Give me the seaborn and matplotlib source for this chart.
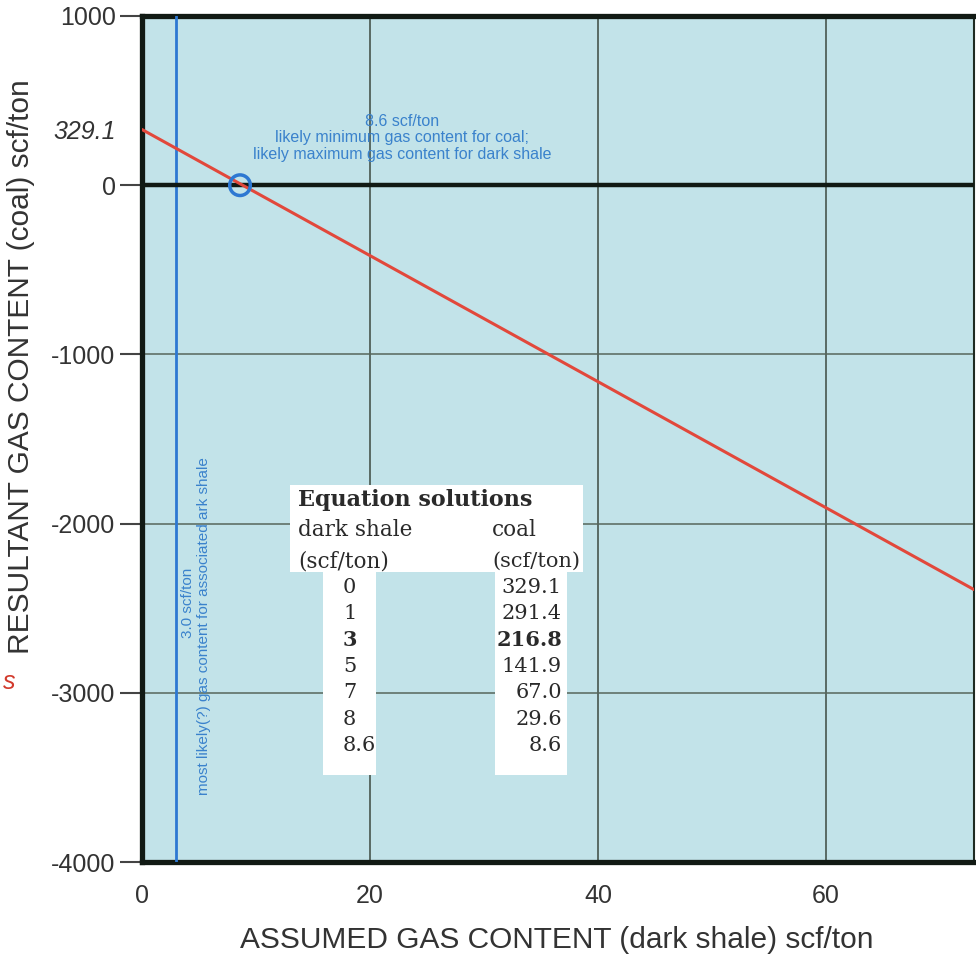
import numpy as np
import pandas as pd
import matplotlib
matplotlib.use("Agg")
import matplotlib.pyplot as plt
import seaborn as sns
from matplotlib.patches import Rectangle

# equation solutions (dark shale vs coal, scf/ton)
shale_vals = [0, 1, 3, 5, 7, 8, 8.6]
coal_vals = [329.1, 291.4, 216.8, 141.9, 67.0, 29.6, 8.6]
shale_labels = ["0", "1", "3", "5", "7", "8", "8.6"]
coal_labels = ["329.1", "291.4", "216.8", "141.9", "67.0", "29.6", "8.6"]
bold_row = 2

# resultant line (extends to right edge)
line_x = [0, 8.6, 73]
line_y = [329.1, 8.6, -2390]

# marked points
min_coal_x = [8.6]
min_coal_y = [0]
likely_shale = 3.0

x_ticks = [0, 20, 40, 60]
y_ticks = [1000, 329.1, 0, -1000, -2000, -3000, -4000]
y_tick_labels = ["1000", "329.1", "0", "-1000", "-2000", "-3000", "-4000"]

sns.set_style("white")
plt.rcParams["font.family"] = ["Liberation Sans", "DejaVu Sans"]

fig = plt.figure(figsize=(9.76, 9.6), dpi=100)
ax = fig.add_axes([142 / 976, 98 / 960, 832 / 976, 846 / 960])
ax.set_facecolor("#c2e3e9")

df = pd.DataFrame({"shale": line_x, "coal": line_y})
sns.lineplot(data=df, x="shale", y="coal", color="#e2483b", linewidth=2.2, ax=ax, zorder=4)

ax.axvline(likely_shale, color="#2d78d2", linewidth=2.0, zorder=3)
ax.axhline(0, color="#111a14", linewidth=3.2, zorder=3)

pts = pd.DataFrame({"x": min_coal_x, "y": min_coal_y})
sns.scatterplot(data=pts, x="x", y="y", s=220, facecolor="none", edgecolor="#2d78d2",
                linewidth=2.5, ax=ax, zorder=5)

ax.set_xlim(0, 73)
ax.set_ylim(-4000, 1000)

# grid
for gx in x_ticks[1:]:
    ax.axvline(gx, color="#3c4a40", linewidth=1.1, zorder=2)
for gy in [-1000, -2000, -3000]:
    ax.axhline(gy, color="#56665b", linewidth=1.1, zorder=2)

ax.set_xticks(x_ticks)
ax.set_xticklabels([str(t) for t in x_ticks])
ax.set_yticks(y_ticks)
ax.set_yticklabels(y_tick_labels)
ax.tick_params(axis="x", length=0, pad=16, labelsize=18, labelcolor="#333333")
ax.tick_params(axis="y", length=16, width=1.5, color="#444444", pad=3,
               labelsize=18, labelcolor="#333333", left=True)
ax.yaxis.get_major_ticks()[1].tick1line.set_visible(False)
ax.get_yticklabels()[1].set_fontstyle("italic")

for side in ["left", "top", "bottom"]:
    ax.spines[side].set_linewidth(3.8)
    ax.spines[side].set_color("#111a14")
ax.spines["right"].set_linewidth(1.5)
ax.spines["right"].set_color("#1e2a22")

ax.set_xlabel("")
ax.set_ylabel("")
fig.text(557 / 976, 1 - 940 / 960, "ASSUMED GAS CONTENT (dark shale) scf/ton",
         fontsize=21.5, color="#333333", ha="center", va="center")
fig.text(21 / 976, 1 - 367 / 960, "RESULTANT GAS CONTENT (coal) scf/ton", rotation=90,
         fontsize=21.5, color="#333333", ha="center", va="center")
fig.text(0.003, 1 - 682 / 960, "s", color="#d23a2c", fontsize=18, style="italic",
         ha="left", va="center")

# blue annotations
blue = "#3a82cc"
ax.text(0.3125, 0.856, "8.6 scf/ton\nlikely minimum gas content for coal;\n"
        "likely maximum gas content for dark shale", transform=ax.transAxes,
        ha="center", va="center", fontsize=11.5, color=blue, linespacing=1.15, zorder=6)
ax.text(0.0553, 0.306, "3.0 scf/ton", transform=ax.transAxes, rotation=90,
        ha="center", va="center", fontsize=11, color=blue, zorder=6)
ax.text(0.0745, 0.279, "most likely(?) gas content for associated ark shale",
        transform=ax.transAxes, rotation=90, ha="center", va="center",
        fontsize=11, color=blue, zorder=6)

# equation solutions table
for (x0, y0, w, h) in [(0.178, 0.343, 0.352, 0.103), (0.2175, 0.103, 0.064, 0.240),
                       (0.424, 0.103, 0.0865, 0.240)]:
    ax.add_patch(Rectangle((x0, y0), w, h, transform=ax.transAxes,
                           facecolor="white", edgecolor="none", zorder=6))

serif = ["DejaVu Serif"]
tcol = "#2a2a2a"
ax.text(0.1875, 0.428, "Equation solutions", transform=ax.transAxes, family=serif,
        fontsize=16, fontweight="bold", color=tcol, va="center", zorder=7)
ax.text(0.1875, 0.392, "dark shale", transform=ax.transAxes, family=serif,
        fontsize=15.5, color=tcol, va="center", zorder=7)
ax.text(0.1875, 0.355, "(scf/ton)", transform=ax.transAxes, family=serif,
        fontsize=15.5, color=tcol, va="center", zorder=7)
ax.text(0.4207, 0.392, "coal", transform=ax.transAxes, family=serif,
        fontsize=15.5, color=tcol, va="center", zorder=7)
ax.text(0.4207, 0.355, "(scf/ton)", transform=ax.transAxes, family=serif,
        fontsize=15, color=tcol, va="center", zorder=7)
for i, (s, c) in enumerate(zip(shale_labels, coal_labels)):
    yy = 0.325 - i * 0.0313
    wt = "bold" if i == bold_row else "normal"
    ax.text(0.2416, yy, s, transform=ax.transAxes, family=serif, fontsize=15,
            fontweight=wt, color=tcol, ha="left", va="center", zorder=7)
    ax.text(0.5048, yy, c, transform=ax.transAxes, family=serif, fontsize=15,
            fontweight=wt, color=tcol, ha="right", va="center", zorder=7)

fig.savefig("out.png", dpi=100, facecolor="white")
